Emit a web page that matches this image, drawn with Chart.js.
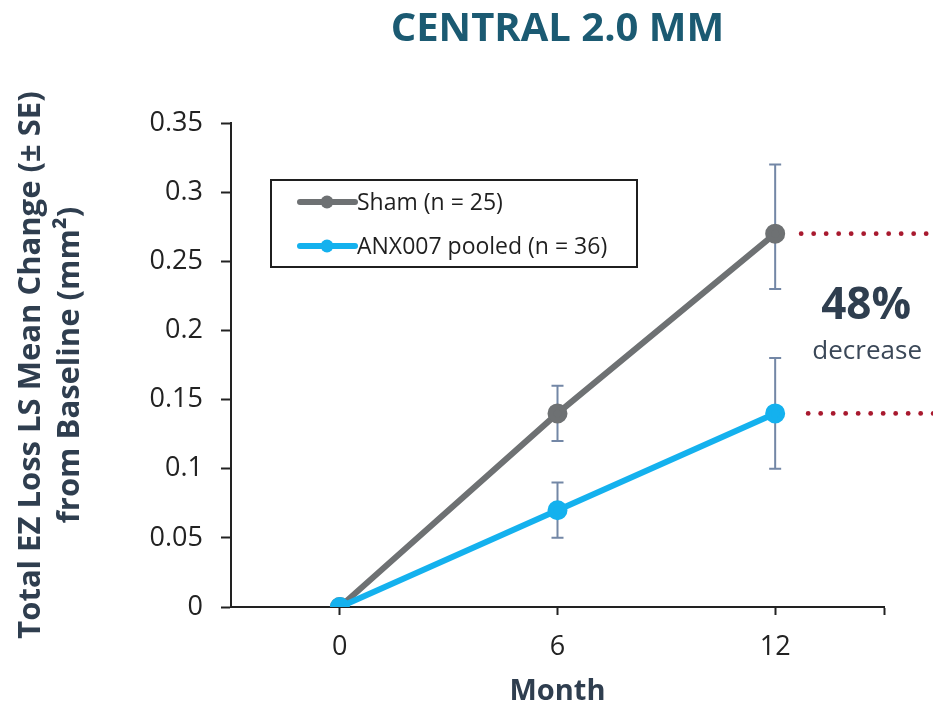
<!DOCTYPE html>
<html>
<head>
<meta charset="utf-8">
<script src="https://cdn.jsdelivr.net/npm/chart.js@4.4.1/dist/chart.umd.min.js"></script>
<style>
  html, body { margin: 0; padding: 0; background: #fff; }
  #wrap { width: 933px; height: 713px; position: relative; }
</style>
</head>
<body>
<div id="wrap"><canvas id="chart"></canvas></div>
<script>
// data
const months = [0, 6, 12];
const monthTicks = [0, 6, 12, 15];
const yTicks = [0, 0.05, 0.1, 0.15, 0.2, 0.25, 0.3, 0.35];

const shamLabel = "Sham (n = 25)";
const shamMean = [0, 0.14, 0.27];
const shamLow = [null, 0.12, 0.23];
const shamHigh = [null, 0.16, 0.32];

const anxLabel = "ANX007 pooled (n = 36)";
const anxMean = [0, 0.07, 0.14];
const anxLow = [null, 0.05, 0.10];
const anxHigh = [null, 0.09, 0.18];

const noteBig = "48%";
const noteSmall = "decrease";

const FONT = "'Open Sans', 'DejaVu Sans', sans-serif";
const SHAM_COLOR = "#6e7173";
const ANX_COLOR = "#14b1ee";
const ERR_COLOR = "#7387a6";
const DOT_RED = "#a8192e";
const SLATE = "#2f3e4f";

function toPoints(xs, ys) {
  return xs.map((x, i) => ({ x: x, y: ys[i] }));
}

// error bars + legend + side note
const extras = {
  id: "extras",
  beforeDatasetsDraw(chart) {
    const ctx = chart.ctx;
    const xs = chart.scales.x, ys = chart.scales.y;
    const sets = [[shamLow, shamHigh], [anxLow, anxHigh]];
    ctx.save();
    ctx.strokeStyle = ERR_COLOR;
    ctx.lineWidth = 2;
    sets.forEach(function (s) {
      months.forEach(function (m, i) {
        if (s[0][i] == null) return;
        let px = xs.getPixelForValue(m);
        let lo = ys.getPixelForValue(s[0][i]);
        let hi = ys.getPixelForValue(s[1][i]);
        ctx.beginPath();
        ctx.moveTo(px, lo); ctx.lineTo(px, hi);
        ctx.moveTo(px - 6, lo); ctx.lineTo(px + 6, lo);
        ctx.moveTo(px - 6, hi); ctx.lineTo(px + 6, hi);
        ctx.stroke();
      });
    });
    ctx.restore();
  },
  afterDraw(chart) {
    const ctx = chart.ctx;
    const xs = chart.scales.x, ys = chart.scales.y;
    ctx.save();

    // red dotted guides at the 12 month values
    let last = months.length - 1;
    let x12 = xs.getPixelForValue(months[last]);
    [[shamMean[last], 26], [anxMean[last], 33]].forEach(function (d) {
      let py = ys.getPixelForValue(d[0]);
      ctx.fillStyle = DOT_RED;
      for (let x = x12 + d[1]; x < chart.width + 3; x += 12.5) {
        ctx.beginPath();
        ctx.arc(x, py, 2.4, 0, Math.PI * 2);
        ctx.fill();
      }
    });

    // 48% decrease note
    let midY = (ys.getPixelForValue(shamMean[last]) + ys.getPixelForValue(anxMean[last])) / 2;
    ctx.textAlign = "center";
    ctx.textBaseline = "middle";
    ctx.fillStyle = SLATE;
    ctx.font = "bold 44px " + FONT;
    ctx.fillText(noteBig, x12 + 91, midY - 17);
    ctx.fillStyle = "#3b4858";
    ctx.font = "26px " + FONT;
    ctx.fillText(noteSmall, x12 + 92, midY + 28);

    // legend box
    let lx = 271, ly = 180, lw = 366, lh = 87;
    ctx.strokeStyle = "#1f1f1f";
    ctx.lineWidth = 2;
    ctx.strokeRect(lx, ly, lw, lh);
    chart.data.datasets.slice().sort((a, b) => b.order - a.order).forEach(function (ds, i) {
      let y = ly + 22 + i * 44;
      ctx.strokeStyle = ds.borderColor;
      ctx.lineWidth = 6;
      ctx.lineCap = "round";
      ctx.beginPath();
      ctx.moveTo(lx + 29, y); ctx.lineTo(lx + 84, y);
      ctx.stroke();
      ctx.fillStyle = ds.borderColor;
      ctx.beginPath();
      ctx.arc(lx + 56, y, 6.5, 0, Math.PI * 2);
      ctx.fill();
      ctx.fillStyle = "#1f1f1f";
      ctx.font = "23px " + FONT;
      ctx.textAlign = "left";
      ctx.fillText(ds.label, lx + 86, y + 1);
    });
    ctx.restore();
  }
};

let ctx = document.getElementById("chart").getContext("2d");
let chart = new Chart(ctx, {
  type: "line",
  data: {
    datasets: [
      {
        label: shamLabel,
        data: toPoints(months, shamMean),
        borderColor: SHAM_COLOR,
        backgroundColor: SHAM_COLOR,
        borderWidth: 6,
        pointRadius: 7,
        pointHoverRadius: 7,
        order: 2
      },
      {
        label: anxLabel,
        data: toPoints(months, anxMean),
        borderColor: ANX_COLOR,
        backgroundColor: ANX_COLOR,
        borderWidth: 6,
        pointRadius: 7,
        pointHoverRadius: 7,
        order: 1
      }
    ]
  },
  options: {
    responsive: true,
    maintainAspectRatio: false,
    animation: false,
    layout: { padding: { left: 0, right: 49, top: 0, bottom: 0 } },
    plugins: {
      legend: { display: false },
      tooltip: { enabled: false },
      title: {
        display: true,
        fullSize: false,
        text: "CENTRAL 2.0 MM",
        color: "#1b5a72",
        font: { family: FONT, size: 40, weight: "bold" },
        padding: { top: 6, bottom: 69 }
      }
    },
    scales: {
      x: {
        type: "linear",
        min: -3,
        max: 15,
        afterBuildTicks: function (axis) {
          axis.ticks = monthTicks.map(v => ({ value: v }));
        },
        afterFit: function (axis) { axis.height = 106; },
        grid: { drawOnChartArea: false, tickLength: 8, tickColor: "#222", tickWidth: 2 },
        border: { color: "#222", width: 2 },
        ticks: {
          color: "#222",
          font: { family: FONT, size: 27 },
          padding: 16,
          callback: function (v) { return months.includes(v) ? String(v) : ""; }
        },
        title: {
          display: true,
          text: "Month",
          color: SLATE,
          font: { family: FONT, size: 29, weight: "bold" },
          padding: { top: 0 }
        }
      },
      y: {
        min: 0,
        max: 0.35,
        afterBuildTicks: function (axis) {
          axis.ticks = yTicks.map(v => ({ value: v }));
        },
        afterFit: function (axis) { axis.width = 231; },
        grid: { drawOnChartArea: false, tickLength: 10, tickColor: "#222", tickWidth: 2 },
        border: { color: "#222", width: 2 },
        ticks: {
          color: "#222",
          font: { family: FONT, size: 27 },
          padding: 18,
          callback: function (v) { return String(v); }
        },
        title: {
          display: true,
          text: ["Total EZ Loss LS Mean Change (\u00B1 SE)", "from Baseline (mm\u00B2)"],
          color: SLATE,
          font: { family: FONT, size: 31, weight: "bold", lineHeight: 1.25 },
          padding: { top: 12, bottom: 0 }
        }
      }
    }
  },
  plugins: [extras]
});
</script>
</body>
</html>
